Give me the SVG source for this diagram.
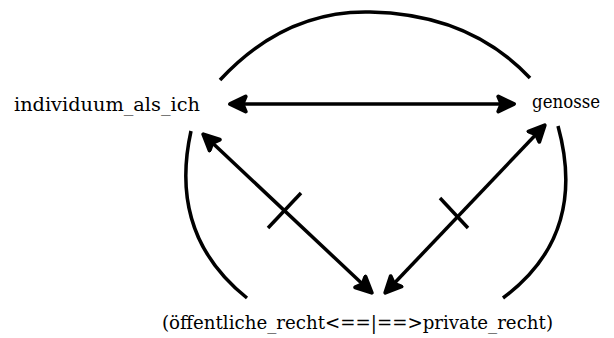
<svg xmlns="http://www.w3.org/2000/svg" width="614" height="338" viewBox="0 0 614 338">
<style>
.arc{fill:none;stroke:#000;stroke-width:3.5}
.con{fill:none;stroke:#000;stroke-width:3.5}
.lbl{font-family:"DejaVu Serif","Liberation Serif",serif;font-size:19px;fill:#000}
</style>
<defs>
<marker id="ah" viewBox="0 0 10 10" refX="8.5" refY="5" markerWidth="5.6" markerHeight="5.6" orient="auto-start-reverse">
<path d="M1,1.2 L9,5 L1,8.8 L2.6,5 z" fill="#000" stroke="#000" stroke-width="2" stroke-linejoin="round"/>
</marker>
</defs>
<rect width="614" height="338" fill="#fff"/>
<g id="arcs">
<path class="arc" d="M220,80 Q285,10 370,12 Q470,14 530,78"/>
<path class="arc" d="M191,131 Q168,235 247,298"/>
<path class="arc" d="M558,126 Q588,235 503,298"/>
</g>
<g id="connectors">
<line class="con" x1="231" y1="104" x2="513" y2="104" marker-start="url(#ah)" marker-end="url(#ah)"/>
<line class="con" x1="204" y1="135" x2="371" y2="292" marker-start="url(#ah)" marker-end="url(#ah)"/>
<line class="con" x1="544" y1="126" x2="386" y2="292" marker-start="url(#ah)" marker-end="url(#ah)"/>
<line class="con" x1="268" y1="228" x2="301" y2="193"/>
<line class="con" x1="440" y1="198" x2="468" y2="228"/>
</g>
<g id="individuum"><text class="lbl" x="14" y="111" textLength="186" lengthAdjust="spacingAndGlyphs">individuum_als_ich</text></g>
<g id="genosse"><text class="lbl" x="532" y="108" textLength="68" lengthAdjust="spacingAndGlyphs">genosse</text></g>
<g id="recht"><text class="lbl" x="162" y="329" textLength="391" lengthAdjust="spacingAndGlyphs">(öffentliche_recht&lt;==|==&gt;private_recht)</text></g>
</svg>
